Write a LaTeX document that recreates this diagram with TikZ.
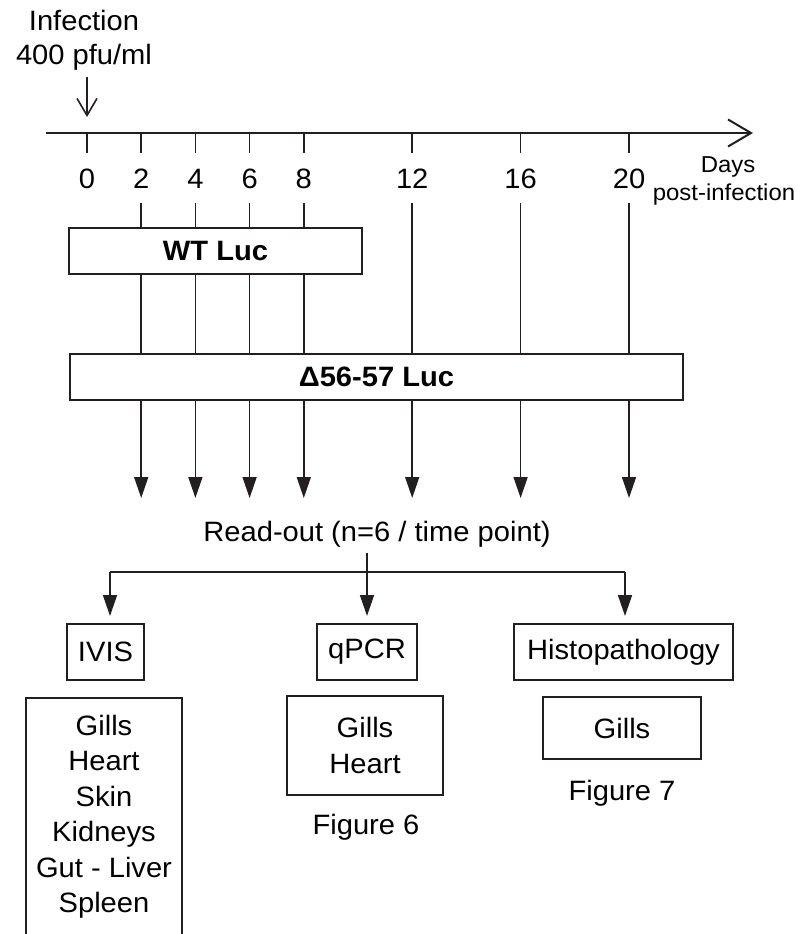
\documentclass[tikz,border=0pt]{standalone}
\usepackage{fontspec}
\setmainfont{Liberation Sans}[FakeStretch=1.04]
\usetikzlibrary{arrows.meta}
\definecolor{ink}{RGB}{35,31,32}
\begin{document}
\begin{tikzpicture}[x=1pt,y=-1pt,
  lbl/.style={font=\fontsize{28}{34}\selectfont, inner sep=0pt, text=black},
  small/.style={font=\fontsize{23}{28}\selectfont, inner sep=0pt, text=black},
  boxnode/.style={draw=ink, line width=1.5pt, inner sep=0pt, text=black,
    font=\fontsize{28}{35.5}\selectfont, align=center},
  boldbox/.style={boxnode, font=\bfseries\fontsize{28}{34}\selectfont},
  bar/.style={draw=ink, line width=1.6pt},
  head/.style={-{Triangle[length=21pt,width=14pt]}},
  ]
\useasboundingbox (0,0) rectangle (807,934);
\clip (0,0) rectangle (807,934);

% infection label and arrow
\node[lbl, anchor=base] (inf1) at (84,31) {Infection};
\node[lbl, anchor=base] (inf2) at (84,65) {400 pfu/ml};
\coordinate (infA) at (87,77);
\coordinate (infB) at (87,117);
\draw[bar, -{Straight Barb[length=17pt,width=20pt]}] (infA) -- (infB);

% time axis
\coordinate (ax0) at (46,133);
\coordinate (ax1) at (753,133);
\draw[bar, line width=2pt, -{Straight Barb[length=23pt,width=27pt]}] (ax0) -- (ax1);
\node[small, anchor=base] (days) at (728,172) {Days};
\node[small, anchor=base] (pinf) at (724,200) {post-infection};

\foreach \d in {0,2,4,6,8,12,16,20} {
  \coordinate (t\d) at ({87+27.1*\d},133);
  \draw[bar] (t\d) -- ++(0,20);
  \node[lbl, anchor=base] (n\d) at ({87+27.1*\d},188) {\d};
}

% strains
\node[boldbox, minimum width=293pt, minimum height=46pt] (wt) at (215.5,251) {WT Luc};
\node[boldbox, minimum width=613pt, minimum height=46pt] (mut) at (376.5,377) {Δ56-57 Luc};

% sampling lines
\foreach \d in {2,4,6,8} {
  \coordinate (s\d) at ({87+27.1*\d},203);
  \coordinate (e\d) at ({87+27.1*\d},498);
  \draw[bar] (s\d) -- (s\d |- wt.north);
  \draw[bar] (s\d |- wt.south) -- (s\d |- mut.north);
  \draw[bar, head] (s\d |- mut.south) -- (e\d);
}
\foreach \d in {12,16,20} {
  \coordinate (s\d) at ({87+27.1*\d},203);
  \coordinate (e\d) at ({87+27.1*\d},498);
  \draw[bar] (s\d) -- (s\d |- mut.north);
  \draw[bar, head] (s\d |- mut.south) -- (e\d);
}

% read-out and branches
\node[lbl, anchor=base] (ro) at (377,541) {Read-out (n=6 / time point)};
\node[boxnode, minimum width=77pt, minimum height=56pt] (ivis) at (105.5,652) {IVIS};
\node[boxnode, minimum width=100pt, minimum height=56pt] (qpcr) at (367,652) {qPCR};
\node[boxnode, minimum width=219pt, minimum height=56pt] (histo) at (623.5,652) {Histopathology};

\coordinate (bc) at (367,553);
\coordinate (bl) at (110,572);
\coordinate (br) at (625,572);
\coordinate (al) at (110,616);
\coordinate (ac) at (367,616);
\coordinate (ar) at (625,616);
\draw[bar] (bl) -- (br);
\draw[bar, head] (bl) -- (al);
\draw[bar, head] (bc) -- (ac);
\draw[bar, head] (br) -- (ar);

% organ boxes
\node[boxnode, minimum width=156pt, minimum height=262pt, anchor=north] (org) at (104,697) {};
\node[lbl, align=center, font=\fontsize{28}{35.5}\selectfont, anchor=north] (orgtxt) at (104,714.5)
  {Gills\\Heart\\Skin\\Kidneys\\Gut - Liver\\Spleen};
\node[boxnode, minimum width=156pt, minimum height=99pt] (qorg) at (365,745.5) {Gills\\Heart};
\node[boxnode, minimum width=158pt, minimum height=62pt] (horg) at (622,728) {Gills};
\node[lbl, anchor=base] (fig6) at (366,834) {Figure 6};
\node[lbl, anchor=base] (fig7) at (622,800) {Figure 7};
\end{tikzpicture}
\end{document}
